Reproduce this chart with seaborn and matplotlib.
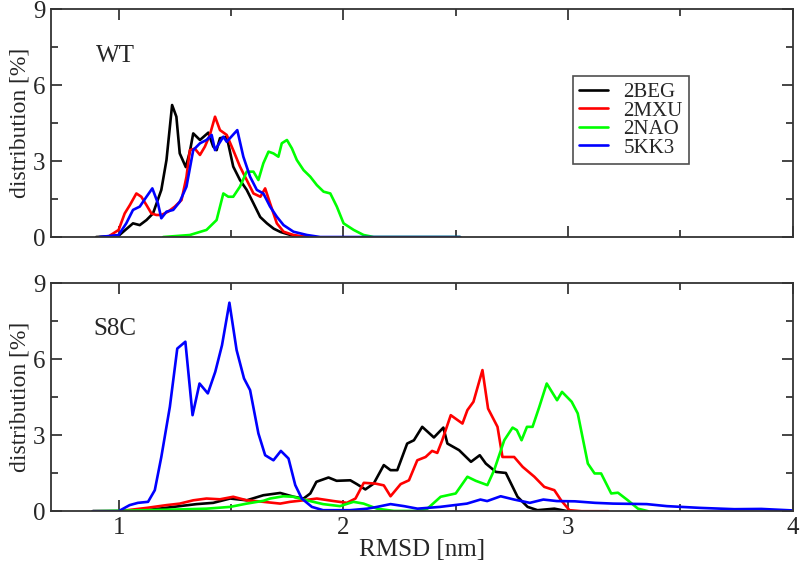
import numpy as np
import pandas as pd
import matplotlib
matplotlib.use("Agg")
import matplotlib.pyplot as plt
import seaborn as sns
from matplotlib.ticker import MultipleLocator

# ---------------- data ----------------
series_names = ["2BEG", "2MXU", "2NAO", "5KK3"]
series_colors = ["#000000", "#ff0000", "#00ff00", "#0000ff"]
panel_labels = ["WT", "S8C"]
x_ticks = [1, 2, 3, 4]
y_ticks = [0, 3, 6, 9]

# WT panel
wt_2beg_x = [0.90, 1.00, 1.064, 1.094, 1.124, 1.153, 1.19, 1.213, 1.238, 1.257, 1.272, 1.299, 1.317, 1.332,
             1.362, 1.399, 1.421, 1.436, 1.451, 1.481, 1.51, 1.54, 1.57, 1.60, 1.63, 1.66, 1.69, 1.72, 1.78, 1.84]
wt_2beg_y = [0.0, 0.05, 0.54, 0.47, 0.67, 0.93, 1.86, 3.04, 5.21, 4.75, 3.30, 2.76, 3.37, 4.09,
             3.83, 4.12, 3.57, 3.43, 3.90, 3.96, 2.78, 2.25, 1.86, 1.33, 0.79, 0.54, 0.33, 0.20, 0.04, 0.0]

wt_2mxu_x = [0.96, 1.00, 1.027, 1.05, 1.079, 1.101, 1.124, 1.146, 1.168, 1.19, 1.22, 1.25, 1.28, 1.302,
             1.317, 1.339, 1.362, 1.384, 1.406, 1.429, 1.451, 1.481, 1.51, 1.54, 1.57, 1.60, 1.631, 1.652,
             1.674, 1.704, 1.734, 1.778, 1.838]
wt_2mxu_y = [0.05, 0.28, 0.93, 1.26, 1.72, 1.59, 1.26, 0.93, 0.87, 0.87, 1.00, 1.20, 1.46, 2.38,
             3.43, 3.49, 3.24, 3.57, 4.03, 4.75, 4.22, 4.03, 3.43, 2.78, 2.25, 1.72, 1.59, 1.92,
             1.33, 0.54, 0.21, 0.08, 0.0]

wt_2nao_x = [1.198, 1.317, 1.391, 1.436, 1.466, 1.488, 1.51, 1.54, 1.57, 1.60, 1.622, 1.644, 1.667, 1.689,
             1.711, 1.726, 1.749, 1.771, 1.793, 1.823, 1.853, 1.882, 1.912, 1.942, 1.971, 2.001, 2.046,
             2.09, 2.135, 2.30, 2.52]
wt_2nao_y = [0.0, 0.08, 0.28, 0.67, 1.72, 1.59, 1.59, 1.99, 2.58, 2.58, 2.25, 2.91, 3.37, 3.30,
             3.17, 3.70, 3.83, 3.50, 3.04, 2.64, 2.38, 2.05, 1.79, 1.72, 1.20, 0.54, 0.28,
             0.08, 0.0, 0.0, 0.0]

wt_5kk3_x = [0.915, 1.00, 1.034, 1.064, 1.094, 1.124, 1.15, 1.175, 1.19, 1.213, 1.243, 1.272, 1.302, 1.332,
             1.362, 1.391, 1.414, 1.429, 1.466, 1.481, 1.528, 1.555, 1.585, 1.615, 1.644, 1.674, 1.704,
             1.734, 1.778, 1.838, 1.897, 2.30, 2.52]
wt_5kk3_y = [0.0, 0.08, 0.54, 1.07, 1.20, 1.59, 1.92, 1.33, 0.74, 1.00, 1.07, 1.39, 1.99, 3.43,
             3.70, 3.83, 4.03, 3.43, 3.96, 3.76, 4.22, 3.17, 2.38, 1.86, 1.72, 1.20, 0.80,
             0.47, 0.21, 0.08, 0.0, 0.0, 0.0]

# S8C panel
s8c_2beg_x = [0.885, 1.00, 1.124, 1.243, 1.347, 1.421, 1.496, 1.57, 1.644, 1.719, 1.779, 1.823, 1.853,
              1.88, 1.934, 1.97, 2.031, 2.06, 2.098, 2.135, 2.18, 2.21, 2.24, 2.284, 2.314, 2.351, 2.403,
              2.445, 2.463, 2.515, 2.568, 2.607, 2.634, 2.679, 2.723, 2.775, 2.82, 2.864, 2.939, 2.998]
s8c_2beg_y = [0.0, 0.0, 0.04, 0.17, 0.28, 0.33, 0.50, 0.43, 0.63, 0.72, 0.57, 0.50, 0.70,
              1.16, 1.33, 1.20, 1.22, 1.07, 0.86, 1.09, 1.82, 1.62, 1.62, 2.67, 2.80, 3.33, 2.91,
              3.30, 2.67, 2.41, 1.95, 2.21, 1.88, 1.55, 1.51, 0.57, 0.17, 0.04, 0.10, 0.0]

s8c_2mxu_x = [0.885, 1.00, 1.124, 1.213, 1.272, 1.332, 1.391, 1.451, 1.51, 1.57, 1.644, 1.719, 1.763,
              1.823, 1.882, 1.957, 2.016, 2.054, 2.091, 2.143, 2.18, 2.21, 2.255, 2.292, 2.329, 2.366,
              2.395, 2.418, 2.44, 2.478, 2.53, 2.552, 2.579, 2.619, 2.644, 2.686, 2.708, 2.76, 2.798,
              2.85, 2.894, 2.939, 2.969, 3.006, 3.06, 3.18]
s8c_2mxu_y = [0.0, 0.0, 0.13, 0.24, 0.30, 0.43, 0.50, 0.47, 0.57, 0.43, 0.37, 0.30, 0.37,
              0.43, 0.50, 0.40, 0.33, 0.50, 1.12, 1.09, 1.02, 0.59, 1.07, 1.22, 2.01, 2.14,
              2.38, 2.30, 2.80, 3.79, 3.46, 3.99, 4.32, 5.57, 4.05, 3.33, 2.14, 2.14, 1.75,
              1.36, 0.96, 0.83, 0.43, 0.04, 0.0, 0.0]

s8c_2nao_x = [0.885, 1.124, 1.272, 1.391, 1.496, 1.57, 1.644, 1.674, 1.733, 1.778, 1.837, 1.91, 1.985,
              2.045, 2.09, 2.15, 2.225, 2.33, 2.374, 2.433, 2.50, 2.552, 2.589, 2.641, 2.671, 2.716,
              2.753, 2.772, 2.793, 2.817, 2.842, 2.872, 2.905, 2.951, 2.973, 3.016, 3.043, 3.088,
              3.118, 3.147, 3.192, 3.222, 3.266, 3.311, 3.356]
s8c_2nao_y = [0.0, 0.04, 0.07, 0.10, 0.17, 0.30, 0.41, 0.50, 0.59, 0.57, 0.43, 0.28, 0.20,
              0.37, 0.30, 0.10, 0.01, 0.01, 0.10, 0.57, 0.70, 1.36, 1.20, 1.03, 1.62, 2.80,
              3.30, 3.20, 2.80, 3.33, 3.33, 4.12, 5.04, 4.38, 4.71, 4.32, 3.86, 1.88,
              1.49, 1.49, 0.70, 0.73, 0.43, 0.10, 0.0]

s8c_5kk3_x = [0.885, 1.00, 1.049, 1.086, 1.131, 1.161, 1.19, 1.228, 1.261, 1.297, 1.329, 1.36, 1.397,
              1.43, 1.46, 1.493, 1.525, 1.558, 1.585, 1.622, 1.652, 1.689, 1.722, 1.756, 1.786, 1.815,
              1.86, 1.91, 2.03, 2.106, 2.15, 2.21, 2.27, 2.33, 2.43, 2.55, 2.61, 2.64, 2.70, 2.76,
              2.83, 2.89, 2.95, 3.03, 3.12, 3.20, 3.35, 3.44, 3.59, 3.74, 3.86, 4.0]
s8c_5kk3_y = [0.0, 0.0, 0.24, 0.33, 0.37, 0.83, 2.14, 4.12, 6.42, 6.69, 3.79, 5.04, 4.65,
              5.50, 6.55, 8.23, 6.36, 5.24, 4.78, 3.07, 2.21, 2.01, 2.38, 2.08, 1.03, 0.50,
              0.17, 0.04, 0.04, 0.10, 0.17, 0.28, 0.20, 0.10, 0.17, 0.30, 0.46, 0.40, 0.59, 0.46,
              0.33, 0.46, 0.40, 0.39, 0.33, 0.30, 0.28, 0.20, 0.13, 0.08, 0.09, 0.03]

wt_data = {"2BEG": (wt_2beg_x, wt_2beg_y), "2MXU": (wt_2mxu_x, wt_2mxu_y),
           "2NAO": (wt_2nao_x, wt_2nao_y), "5KK3": (wt_5kk3_x, wt_5kk3_y)}
s8c_data = {"2BEG": (s8c_2beg_x, s8c_2beg_y), "2MXU": (s8c_2mxu_x, s8c_2mxu_y),
            "2NAO": (s8c_2nao_x, s8c_2nao_y), "5KK3": (s8c_5kk3_x, s8c_5kk3_y)}


def to_long(d):
    rows = []
    for name in series_names:
        xs, ys = d[name]
        for xv, yv in zip(xs, ys):
            rows.append({"x": xv, "y": yv, "series": name})
    return pd.DataFrame(rows)


# ---------------- styling ----------------
sns.set_theme(style="ticks")
plt.rcParams["font.family"] = ["Liberation Serif", "DejaVu Serif"]
plt.rcParams["axes.linewidth"] = 1.3
plt.rcParams["xtick.direction"] = "in"
plt.rcParams["ytick.direction"] = "in"

fig = plt.figure(figsize=(8.0, 5.63), dpi=100)
ax1 = fig.add_axes([0.064, 0.579, 0.927, 0.405])
ax2 = fig.add_axes([0.064, 0.092, 0.927, 0.405])
palette = dict(zip(series_names, series_colors))

for ax, d, lab, lx, ly in [(ax1, wt_data, panel_labels[0], 0.061, 0.768),
                           (ax2, s8c_data, panel_labels[1], 0.057, 0.772)]:
    df = to_long(d)
    sns.lineplot(data=df, x="x", y="y", hue="series", palette=palette, estimator=None,
                 sort=False, linewidth=1.9, ax=ax, legend=(ax is ax1))
    ax.set_xlim(0.7, 4.0)
    ax.set_ylim(0, 9)
    ax.set_xticks(x_ticks)
    ax.set_yticks(y_ticks)
    ax.xaxis.set_minor_locator(MultipleLocator(0.5))
    ax.yaxis.set_minor_locator(MultipleLocator(1.5))
    ax.tick_params(which="major", length=8, width=1.2, top=True, right=True, labelsize=18, pad=4)
    ax.tick_params(which="minor", length=5, width=1.2, top=True, right=True)
    ax.set_ylabel("distribution [%]", fontsize=17, labelpad=2)
    ax.text(lx, ly, lab, transform=ax.transAxes, fontsize=18, ha="left", va="baseline")
    for s in ax.spines.values():
        s.set_color("#333333")

ax1.set_xlabel("")
ax1.set_xticklabels([])
ax2.set_xlabel("RMSD [nm]", fontsize=18, labelpad=0)

leg = ax1.legend(loc="upper left", bbox_to_anchor=(0.703, 0.705), fontsize=15, frameon=True,
                 fancybox=False, edgecolor="#222222", handlelength=1.4, handletextpad=0.75,
                 labelspacing=-0.05, borderpad=0.3, borderaxespad=0.0)
leg.get_frame().set_linewidth(1.2)
for line in leg.get_lines():
    line.set_linewidth(1.9)

fig.savefig("out.png", dpi=100)
